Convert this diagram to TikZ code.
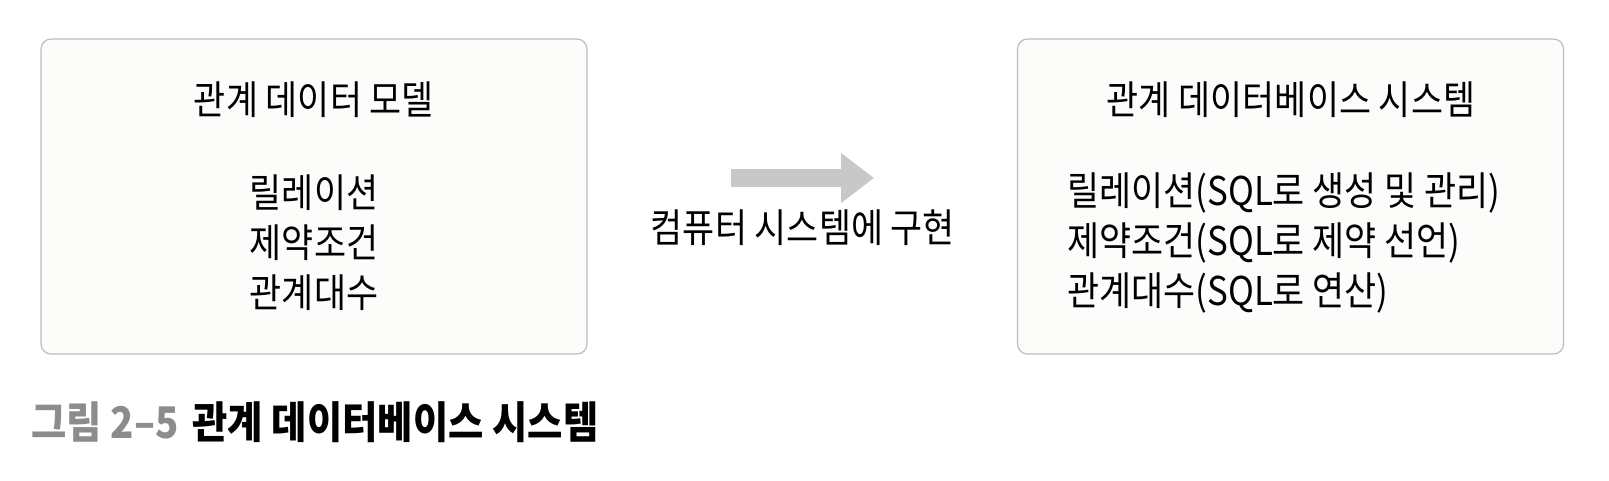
\documentclass[tikz,border=0pt]{standalone}
\usepackage{fontspec}
\setmainfont[FakeStretch=0.88]{Noto Sans CJK KR}
\usetikzlibrary{arrows.meta,positioning}
\definecolor{boxline}{HTML}{BDBDBD}
\definecolor{boxfill}{HTML}{FCFCFB}
\definecolor{arrowgray}{HTML}{C8C8C8}
\definecolor{capgray}{HTML}{8C8C8C}
\tikzset{bx/.style={draw=boxline, fill=boxfill, line width=0.6pt, rounded corners=5pt,
  minimum width=273pt, minimum height=157.5pt}}
\tikzset{tx/.style={inner sep=0pt, font=\fontsize{19.8}{23}\selectfont}}

\begin{document}
\begin{tikzpicture}[x=0.5pt,y=-0.5pt]
\useasboundingbox (0,0) rectangle (1609,481);
% two boxes
\node[bx] (model) at (314,196.5) {};
\node[bx] (dbms) at (1290.5,196.5) {};
% left box
\node[tx] (mtitle) at (314,100) {관계 데이터 모델};
\node[tx] (m1) at (314,193) {릴레이션};
\node[tx] (m2) at (314,243) {제약조건};
\node[tx] (m3) at (314,293) {관계대수};
% right box
\node[tx] (dtitle) at (1291,100) {관계 데이터베이스 시스템};
\node[tx, anchor=west] (d1) at (1067,193) {릴레이션(SQL로 생성 및 관리)};
\node[tx, anchor=west] (d2) at (1067,243) {제약조건(SQL로 제약 선언)};
\node[tx, anchor=west] (d3) at (1067,293) {관계대수(SQL로 연산)};
% arrow
\coordinate (as) at (731,178);
\coordinate (ae) at (874,178);
\draw[arrowgray, line width=9pt, -{Triangle[length=16.5pt,width=24pt]}] (as) -- (ae);
\node[tx] (impl) at (803,228) {컴퓨터 시스템에 구현};
% caption
\node[tx, anchor=west, font=\fontsize{21.8}{25}\selectfont\bfseries] (cap) at (31,422)
  {{\color{capgray}그림 2–5}\hspace{7pt}관계 데이터베이스 시스템};
\end{tikzpicture}
\end{document}
